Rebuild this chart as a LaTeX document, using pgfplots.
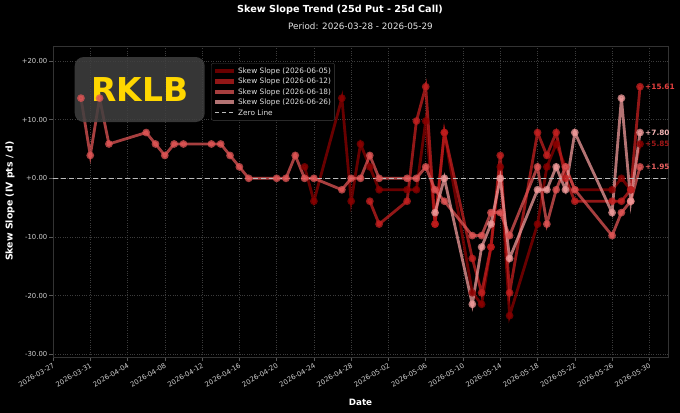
\documentclass[border=0pt]{standalone}
\usepackage{fontspec}
\setmainfont{DejaVu Sans}
\usepackage{pgfplots}
\pgfplotsset{compat=1.18}
\usepackage{pgfplotstable}
\definecolor{sA}{HTML}{8B0000}
\definecolor{sB}{HTML}{C42020}
\definecolor{sC}{HTML}{E05555}
\definecolor{sD}{HTML}{F09A9A}
\definecolor{tickc}{HTML}{D0D0D0}
\definecolor{gridc}{HTML}{3C3C3C}
\definecolor{zeroc}{HTML}{BBBBBB}
\definecolor{gold}{HTML}{FFD700}
\definecolor{boxc}{HTML}{404040}
\definecolor{lA}{HTML}{A01818}
\definecolor{lB}{HTML}{E8403F}
\definecolor{lC}{HTML}{E86060}
\definecolor{lD}{HTML}{F2B4B4}

\pgfplotstableread{
d v
27 1.95
28 -3.90
31 13.66
32 -3.90
33 5.85
34 1.95
35 -1.95
38 -1.95
39 -1.95
40 9.76
41 -7.80
42 7.80
45 -19.51
46 -21.46
47 -11.71
48 1.95
49 -23.41
52 -7.80
53 1.95
54 5.85
55 1.95
56 -1.95
60 -1.95
61 0
62 -1.95
63 5.85
}\sA
\pgfplotstableread{
d v
34 -3.90
35 -7.80
38 -3.90
39 9.76
40 15.61
41 -7.80
42 7.80
45 -13.66
46 -19.51
47 -11.71
48 3.90
49 -19.51
52 7.80
53 3.90
54 7.80
55 0
56 -3.90
60 -3.90
61 -3.90
62 -1.95
63 15.61
}\sB
\pgfplotstableread{
d v
3 13.66
4 3.90
5 13.66
6 5.85
10 7.80
11 5.85
12 3.90
13 5.85
14 5.85
17 5.85
18 5.85
19 3.90
20 1.95
21 0
24 0
25 0
26 3.90
27 0
28 0
31 -1.95
32 0
33 0
34 3.90
35 0
38 0
39 0
40 1.95
41 -1.95
42 -3.90
45 -9.76
46 -9.76
47 -5.85
48 -5.85
49 -9.76
52 1.95
53 -7.80
54 -1.95
55 1.95
56 -1.95
60 -9.76
61 -5.85
62 -3.90
63 1.95
}\sC
\pgfplotstableread{
d v
41 -5.85
42 0
45 -21.46
46 -11.71
47 -7.80
48 0
49 -13.66
52 -1.95
53 -1.95
54 1.95
55 -1.95
56 7.80
60 -5.85
61 13.66
62 -3.90
63 7.80
}\sD

\pgfplotsset{ser/.style={draw=#1, line width=2.8bp, opacity=0.75, mark=*, mark size=2.4bp, mark options={draw=none, fill=#1}}}

\begin{document}
\begin{tikzpicture}
\fill[black] (-53bp,-56bp) rectangle (627bp,357bp);
\begin{axis}[
  at={(0,0)}, anchor=south west,
  width=615bp, height=311bp, scale only axis,
  xmin=0, xmax=66, ymin=-30.45, ymax=22.55,
  clip=false,
  axis line style={draw=gray!40!black, line width=0.6bp},
  grid=major, grid style={dotted, draw=gridc, line width=0.5bp},
  xtick={0,4,...,64},
  xticklabels={2026-03-27,2026-03-31,2026-04-04,2026-04-08,2026-04-12,2026-04-16,2026-04-20,2026-04-24,2026-04-28,2026-05-02,2026-05-06,2026-05-10,2026-05-14,2026-05-18,2026-05-22,2026-05-26,2026-05-30},
  ytick={-30,-20,...,20},
  yticklabels={-30.00,-20.00,-10.00,+0.00,+10.00,+20.00},
  tick align=outside, xtick pos=left, ytick pos=left,
  major tick length=3.5bp,
  tick style={draw=gray!70!black, line width=0.6bp},
  x tick label style={rotate=30, anchor=north east, font=\fontsize{6.9}{7}\selectfont, text=tickc, inner sep=1.5bp},
  y tick label style={font=\fontsize{6.9}{7}\selectfont, text=tickc, inner sep=2bp},
  /pgf/number format/assume math mode=true,
  legend style={at={(0.257,0.945)}, anchor=north west, fill=black, draw=gray!50!black,
    rounded corners=2bp, font=\fontsize{7.4}{8}\selectfont, text=white!88!black,
    inner xsep=2bp, inner ysep=1.5bp, row sep=-2.2bp,
    nodes={inner sep=1.6bp, text height=0.72em, text depth=0.22em}},
  legend cell align=left,
  legend image code/.code={\draw[#1, mark=none, line width=4.2bp] (0bp,0bp) -- (19bp,0bp);},
]
\addplot[ser=sA] table[x=d,y=v] {\sA};
\addlegendentry{Skew Slope (2026-06-05)}
\addplot[ser=sB] table[x=d,y=v] {\sB};
\addlegendentry{Skew Slope (2026-06-12)}
\addplot[ser=sC] table[x=d,y=v] {\sC};
\addlegendentry{Skew Slope (2026-06-18)}
\addplot[ser=sD] table[x=d,y=v] {\sD};
\addlegendentry{Skew Slope (2026-06-26)}
\addplot[draw=zeroc, line width=1.2bp, dash pattern=on 5bp off 3bp,
  legend image code/.code={\draw[draw=zeroc, line width=1.2bp, dash pattern=on 4bp off 3bp] (0bp,0bp) -- (19bp,0bp);}]
  coordinates {(0,0) (66,0)};
\addlegendentry{Zero Line}

\node[anchor=west, inner sep=0pt, xshift=5bp, text=lB, font=\bfseries\fontsize{7.4}{8}\selectfont] at (axis cs:63,15.61) {+15.61};
\node[anchor=west, inner sep=0pt, xshift=5bp, text=lD, font=\bfseries\fontsize{7.4}{8}\selectfont] at (axis cs:63,7.80) {+7.80};
\node[anchor=west, inner sep=0pt, xshift=5bp, text=lA, font=\bfseries\fontsize{7.4}{8}\selectfont] at (axis cs:63,5.85) {+5.85};
\node[anchor=west, inner sep=0pt, xshift=5bp, text=lC, font=\bfseries\fontsize{7.4}{8}\selectfont] at (axis cs:63,1.95) {+1.95};

\node[fill=boxc, fill opacity=0.85, text opacity=1, rounded corners=9bp,
  minimum width=130bp, minimum height=65bp, inner sep=0pt, text=gold,
  font=\bfseries\fontsize{33}{33}\selectfont] at (rel axis cs:0.141,0.860) {RKLB};
\end{axis}
\node[font=\bfseries\fontsize{9.7}{12}\selectfont, text=white] at (287bp,347bp) {Skew Slope Trend (25d Put - 25d Call)};
\node[font=\fontsize{8.8}{10}\selectfont, text=white!90!black] at (307.5bp,331bp) {Period: 2026-03-28 - 2026-05-29};
\node[font=\bfseries\fontsize{9.4}{10}\selectfont, text=white, rotate=90] at (-43bp,156bp) {Skew Slope (IV pts / d)};
\node[font=\bfseries\fontsize{8.8}{10}\selectfont, text=white] at (307.5bp,-45bp) {Date};
\pgfresetboundingbox
\useasboundingbox (-53bp,-56bp) rectangle (627bp,357bp);
\end{tikzpicture}
\end{document}
